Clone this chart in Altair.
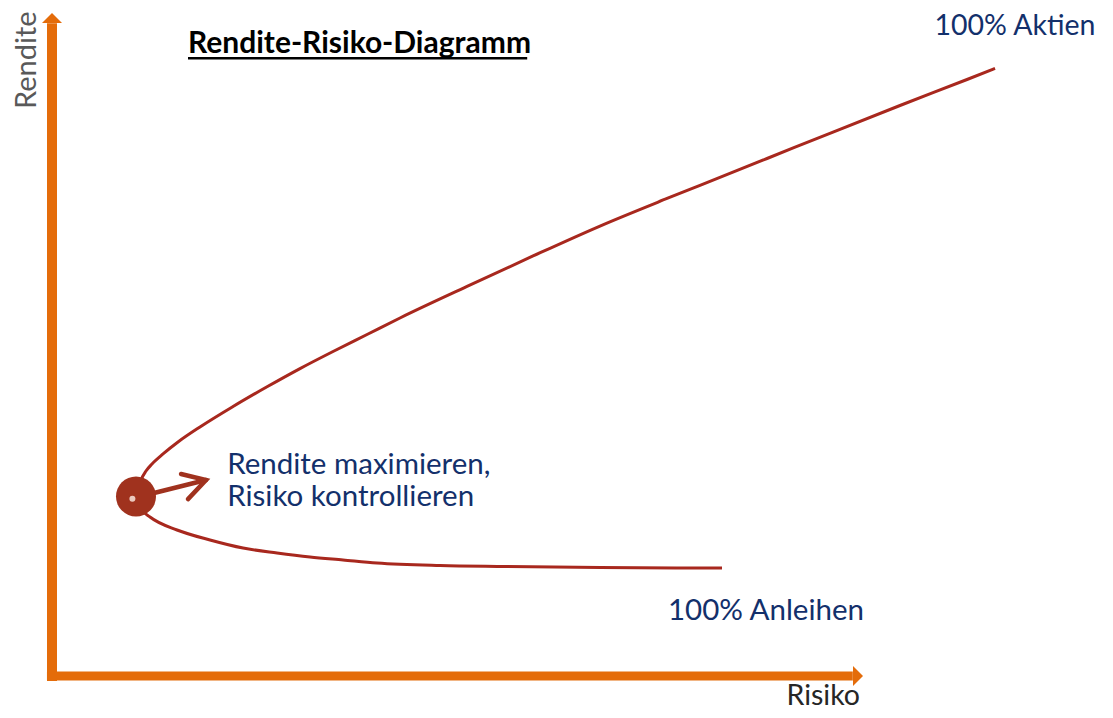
import altair as alt
import pandas as pd

# ---- data (Risiko / Rendite units) ----
upper_risk = [10.75, 11.13, 11.75, 12.5, 13.88, 15.75, 18.5, 22.63, 26.88, 31.0, 35.13, 39.38,
              43.5, 51.88, 60.13, 68.5, 76.88, 81.0, 89.38, 97.63, 106.0, 114.38, 117.88]
upper_ret = [28.18, 29.7, 31.06, 32.12, 33.64, 35.45, 37.73, 40.83, 43.82, 46.58, 49.17, 51.74,
             54.24, 59.02, 63.64, 68.18, 72.35, 74.35, 78.41, 82.42, 86.44, 90.38, 92.05]
lower_risk = [10.5, 11.25, 12.25, 15.63, 19.75, 23.88, 28.13, 32.25, 36.38, 40.63, 48.5, 56.0, 68.5, 83.75]
lower_ret = [26.97, 25.15, 24.09, 22.12, 20.61, 19.39, 18.64, 18.03, 17.58, 17.12, 16.74, 16.59, 16.44, 16.36]

opt_risk = [10.5]
opt_ret = [27.2]

arrow_risk = [16.13, 19.25, 17.0]
arrow_ret = [30.6, 29.7, 26.8]
arrow_start = [12.25, 27.58]

labels = ["Rendite maximieren,", "Risiko kontrollieren", "100% Aktien", "100% Anleihen"]
label_risk = [21.9, 21.9, 110.3, 77.0]
label_ret = [32.0, 27.1, 98.5, 9.85]
label_size = [29.5, 29.5, 28.5, 29.5]

title_text = "Rendite-Risiko-Diagramm"
title_pos = [17.0, 95.8]
title_underline = [17.0, 59.4, 93.6]

x_title, x_title_pos = "Risiko", [101.0, -4.4]
y_title, y_title_pos = "Rendite", [-3.1, 93.3]

x_axis_line = [-0.63, 100.1, 0.0]
y_axis_line = [0.0, -0.76, 98.9]
x_arrow_pos = [100.75, 0.0]
y_arrow_pos = [0.0, 99.7]

ORANGE = "#E46C0A"
RED = "#A8281E"
DOT = "#A0321E"
NAVY = "#13306B"
FONT = "Lato"

xs = alt.Scale(domain=[-5.5, 131.625], nice=False, zero=False)
ys = alt.Scale(domain=[-5.15, 101.21], nice=False, zero=False)


def X(f="x"):
    return alt.X(f"{f}:Q", scale=xs, axis=None)


def Y(f="y"):
    return alt.Y(f"{f}:Q", scale=ys, axis=None)


# frontier curve (two branches, each monotone in Risiko)
upper = alt.Chart(pd.DataFrame({"x": upper_risk, "y": upper_ret})).mark_line(
    color=RED, strokeWidth=3, interpolate="monotone").encode(x=X(), y=Y())
lower = alt.Chart(pd.DataFrame({"x": lower_risk, "y": lower_ret})).mark_line(
    color=RED, strokeWidth=3, interpolate="monotone").encode(x=X(), y=Y())

# axes
xaxis = alt.Chart(pd.DataFrame({"x": [x_axis_line[0]], "x2": [x_axis_line[1]], "y": [x_axis_line[2]]})).mark_rule(
    color=ORANGE, strokeWidth=9, strokeCap="butt").encode(x=X(), x2="x2:Q", y=Y())
yaxis = alt.Chart(pd.DataFrame({"x": [y_axis_line[0]], "y": [y_axis_line[1]], "y2": [y_axis_line[2]]})).mark_rule(
    color=ORANGE, strokeWidth=10, strokeCap="butt").encode(x=X(), y=Y(), y2="y2:Q")
xarrow = alt.Chart(pd.DataFrame({"x": [x_arrow_pos[0]], "y": [x_arrow_pos[1]]})).mark_point(
    shape="M-0.5,-1L0.5,0L-0.5,1Z", size=400, filled=True, color=ORANGE, opacity=1).encode(x=X(), y=Y())
yarrow = alt.Chart(pd.DataFrame({"x": [y_arrow_pos[0]], "y": [y_arrow_pos[1]]})).mark_point(
    shape="M-1,0.5L0,-0.5L1,0.5Z", size=400, filled=True, color=ORANGE, opacity=1).encode(x=X(), y=Y())

# optimum dot
dot = alt.Chart(pd.DataFrame({"x": opt_risk, "y": opt_ret})).mark_point(
    shape="circle", size=1600, filled=True, color=DOT, opacity=1).encode(x=X(), y=Y())
spot = alt.Chart(pd.DataFrame({"x": [opt_risk[0] - 0.45], "y": [opt_ret[0] - 0.35]})).mark_point(
    shape="circle", size=36, filled=True, color="#EBC9BF", opacity=1).encode(x=X(), y=Y())

# small arrow
shaft = alt.Chart(pd.DataFrame({"x": [arrow_start[0]], "y": [arrow_start[1]],
                                "x2": [arrow_risk[1]], "y2": [arrow_ret[1]]})).mark_rule(
    color=DOT, strokeWidth=4.5, strokeCap="round").encode(x=X(), y=Y(), x2="x2:Q", y2="y2:Q")
head_df = pd.DataFrame({"x": arrow_risk, "y": arrow_ret, "o": [0, 1, 2]})
head = alt.Chart(head_df).mark_line(color=DOT, strokeWidth=4.5, strokeCap="round", strokeJoin="miter").encode(
    x=X(), y=Y(), order="o:Q")

# labels
lab_df = pd.DataFrame({"t": labels, "x": label_risk, "y": label_ret, "s": label_size})
lab = alt.Chart(lab_df).mark_text(align="left", baseline="middle", font=FONT, color=NAVY).encode(
    x=X(), y=Y(), text="t:N", size=alt.Size("s:Q", scale=None, legend=None))

title = alt.Chart(pd.DataFrame({"t": [title_text], "x": [title_pos[0]], "y": [title_pos[1]]})).mark_text(
    align="left", baseline="middle", font=FONT, fontSize=30, fontWeight="bold", color="#000000").encode(
    x=X(), y=Y(), text="t:N")
uline = alt.Chart(pd.DataFrame({"x": [title_underline[0]], "x2": [title_underline[1]], "y": [title_underline[2]]})).mark_rule(
    color="#000000", strokeWidth=2.5).encode(x=X(), x2="x2:Q", y=Y())

xt = alt.Chart(pd.DataFrame({"t": [x_title], "x": [x_title_pos[0]], "y": [x_title_pos[1]]})).mark_text(
    align="right", baseline="alphabetic", font=FONT, fontSize=28.5, color="#262626").encode(x=X(), y=Y(), text="t:N")
yt = alt.Chart(pd.DataFrame({"t": [y_title], "x": [y_title_pos[0]], "y": [y_title_pos[1]]})).mark_text(
    align="center", baseline="middle", angle=270, font=FONT, fontSize=29, color="#595959").encode(x=X(), y=Y(), text="t:N")

chart = alt.layer(upper, lower, xaxis, yaxis, xarrow, yarrow, shaft, head, dot, spot, lab, title, uline, xt, yt).properties(
    width=1097, height=702, padding=0, autosize=alt.AutoSizeParams(type="none")
).configure_view(stroke=None)

chart.save("out.html", embed_options={"renderer": "svg", "actions": False})
